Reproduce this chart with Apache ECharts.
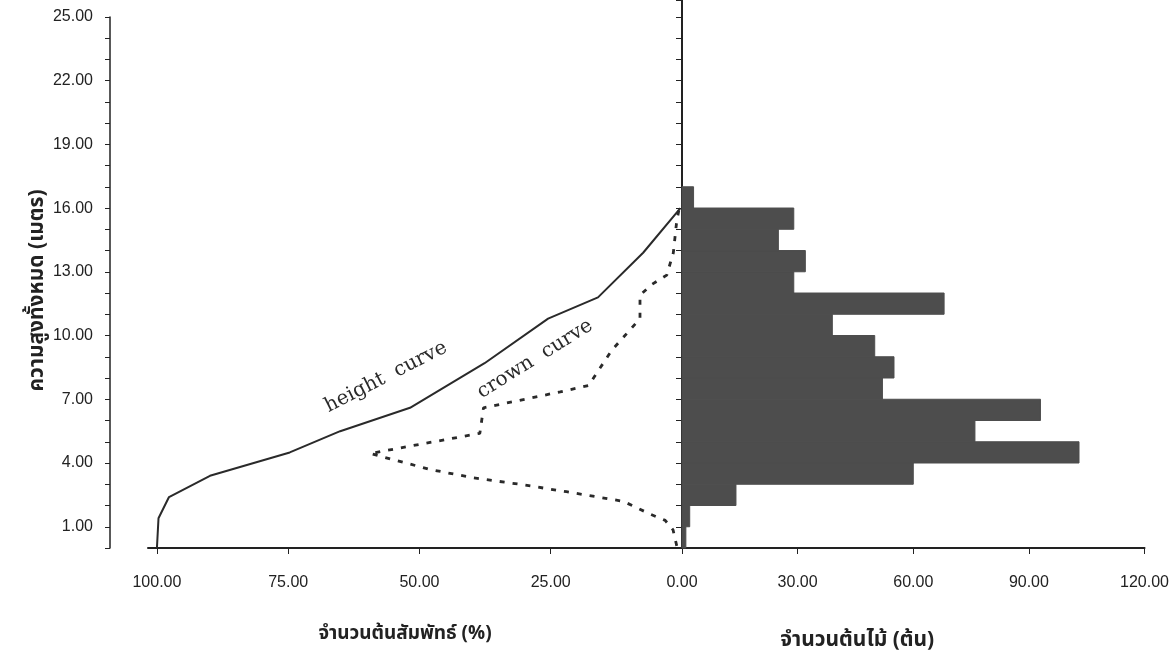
<!DOCTYPE html>
<html>
<head>
<meta charset="utf-8">
<script src="https://cdn.jsdelivr.net/npm/echarts@6/dist/echarts.min.js"></script>
<style>
  html, body { margin: 0; padding: 0; background: #ffffff; }
  #chart { width: 1172px; height: 666px; }
</style>
</head>
<body>
<div id="chart"></div>
<script>
// ---- Data ----
// Height classes (lower bound, metres) and number of trees in each 1-m class
const heightClassLower = [0, 1, 2, 3, 4, 5, 6, 7, 8, 9, 10, 11, 12, 13, 14, 15, 16];
const treeCounts       = [1, 2, 14, 60, 103, 76, 93, 52, 55, 50, 39, 68, 29, 32, 25, 29, 3];

// Height curve: relative number of trees (%) vs height (m)
const heightCurvePct = [100, 99.7, 97.7, 89.9, 74.7, 65.1, 51.8, 37.6, 25.5, 16.0, 7.4, 0.3];
const heightCurveH   = [0,   1.4,  2.4,  3.4,  4.5,  5.5,  6.6,  8.7,  10.8, 11.8, 13.9, 16.0];

// Crown curve: relative number of trees (%) vs height (m)
const crownCurvePct = [1.0, 1.7, 3.2, 6.1, 11.2, 22.0, 30.9, 39.7, 48.0, 59.4, 38.5, 37.8, 23.2, 17.8, 13.4, 8.0, 8.0, 5.8, 2.9, 1.65, 1.0, 0.6];
const crownCurveH   = [0.1, 0.85, 1.3, 1.6, 2.2, 2.65, 3.0, 3.3, 3.7, 4.45, 5.4, 6.6, 7.35, 7.65, 9.3, 10.8, 11.9, 12.4, 12.85, 13.9, 15.4, 15.9];

// Tick labels
const pctTickValues   = [0, 25, 50, 75, 100];
const countTickValues = [30, 60, 90, 120];
const heightLabelValues = [1, 4, 7, 10, 13, 16, 19, 22, 25];

const yAxisTitle = 'ความสูงทั้งหมด (เมตร)';
const pctAxisTitle = 'จำนวนต้นสัมพัทธ์ (%)';
const countAxisTitle = 'จำนวนต้นไม้ (ต้น)';

// ---- Chart ----
const thaiFont = "'Noto Sans Thai', 'Noto Sans Thai UI', 'Noto Serif Thai', Garuda, Loma, 'Tlwg Typo', Kinnari, 'DejaVu Sans', sans-serif";
const numFont = "'Liberation Sans', Arial, sans-serif";
const axisColor = '#222222';
const barColor = '#4d4d4d';

const chart = echarts.init(document.getElementById('chart'), null, { renderer: 'canvas' });

const option = {
  backgroundColor: '#ffffff',
  animation: false,
  grid: [
    { left: 148, right: 490, top: 17, bottom: 118 },
    { left: 682, right: 27, top: 0, bottom: 118 }
  ],
  xAxis: [
    {
      gridIndex: 0, type: 'value', inverse: true, min: 0, max: 101.7,
      splitLine: { show: false },
      axisLine: { show: true, onZero: false, lineStyle: { color: axisColor, width: 2 } },
      axisTick: { show: true, customValues: pctTickValues, length: 6, lineStyle: { color: axisColor, width: 1 } },
      axisLabel: {
        customValues: pctTickValues, margin: 27,
        formatter: v => v.toFixed(2),
        fontFamily: numFont, fontSize: 16, color: '#222'
      },
      name: pctAxisTitle, nameLocation: 'middle', nameGap: 78,
      nameTextStyle: { fontFamily: thaiFont, fontSize: 19, fontWeight: 'bold', color: '#222', padding: [0, 20, 0, 0] }
    },
    {
      gridIndex: 1, type: 'value', min: 0, max: 120, interval: 30,
      splitLine: { show: false },
      axisLine: { show: true, onZero: false, lineStyle: { color: axisColor, width: 2 } },
      axisTick: { show: true, length: 6, lineStyle: { color: axisColor, width: 1 } },
      axisLabel: {
        customValues: countTickValues, margin: 27,
        formatter: v => v.toFixed(2),
        fontFamily: numFont, fontSize: 16, color: '#222'
      },
      name: countAxisTitle, nameLocation: 'middle', nameGap: 83,
      nameTextStyle: { fontFamily: thaiFont, fontSize: 21, fontWeight: 'bold', color: '#222', padding: [0, 112, 0, 0] }
    }
  ],
  yAxis: [
    {
      gridIndex: 0, type: 'value', min: 0, max: 25, interval: 1, position: 'left', offset: 38,
      splitLine: { show: false },
      axisLine: { show: true, onZero: false, lineStyle: { color: axisColor, width: 1.5 } },
      axisTick: { show: true, length: 5, lineStyle: { color: axisColor, width: 1 } },
      axisLabel: {
        customValues: heightLabelValues, margin: 17,
        formatter: v => v.toFixed(2),
        fontFamily: numFont, fontSize: 16, color: '#222'
      },
      name: yAxisTitle, nameLocation: 'middle', nameGap: 54,
      nameTextStyle: { fontFamily: thaiFont, fontSize: 21, fontWeight: 'bold', color: '#222', padding: [0, 16, 0, 0] }
    },
    {
      gridIndex: 1, type: 'value', min: 0, max: 25.79, interval: 1, position: 'left',
      splitLine: { show: false },
      axisLine: { show: true, onZero: false, lineStyle: { color: axisColor, width: 2 } },
      axisTick: { show: true, length: 6, lineStyle: { color: axisColor, width: 1 } },
      axisLabel: { show: false }
    }
  ],
  series: [
    {
      name: 'height curve', type: 'line', xAxisIndex: 0, yAxisIndex: 0,
      data: heightCurvePct.map((p, i) => [p, heightCurveH[i]]),
      showSymbol: false, symbol: 'none', smooth: false,
      lineStyle: { color: '#2a2a2a', width: 2 }, z: 3
    },
    {
      name: 'crown curve', type: 'line', xAxisIndex: 0, yAxisIndex: 0,
      data: crownCurvePct.map((p, i) => [p, crownCurveH[i]]),
      showSymbol: false, symbol: 'none', smooth: false,
      lineStyle: { color: '#2a2a2a', width: 2.8, type: [5, 8] }, z: 3
    },
    {
      name: 'trees', type: 'custom', xAxisIndex: 1, yAxisIndex: 1,
      data: heightClassLower.map((lo, i) => [lo, lo + 1, treeCounts[i]]),
      encode: { x: 2, y: [0, 1] },
      renderItem: function (params, api) {
        const lo = api.value(0), hi = api.value(1), v = api.value(2);
        const p0 = api.coord([0, hi]);
        const p1 = api.coord([v, lo]);
        return {
          type: 'rect',
          shape: { x: p0[0], y: p0[1], width: p1[0] - p0[0], height: p1[1] - p0[1] },
          style: { fill: barColor, stroke: barColor, lineWidth: 1 }
        };
      },
      z: 1
    }
  ],
  graphic: [
    {
      type: 'text', x: 386, y: 377, rotation: 27 * Math.PI / 180,
      style: { text: 'height  curve', x: 0, y: 0, align: 'center', verticalAlign: 'middle',
               font: "20px 'DejaVu Serif', 'Liberation Serif', serif", fill: '#2a2a2a' }
    },
    {
      type: 'text', x: 535, y: 359, rotation: 32 * Math.PI / 180,
      style: { text: 'crown  curve', x: 0, y: 0, align: 'center', verticalAlign: 'middle',
               font: "20px 'DejaVu Serif', 'Liberation Serif', serif", fill: '#2a2a2a' }
    }
  ]
};

chart.setOption(option);
</script>
</body>
</html>
